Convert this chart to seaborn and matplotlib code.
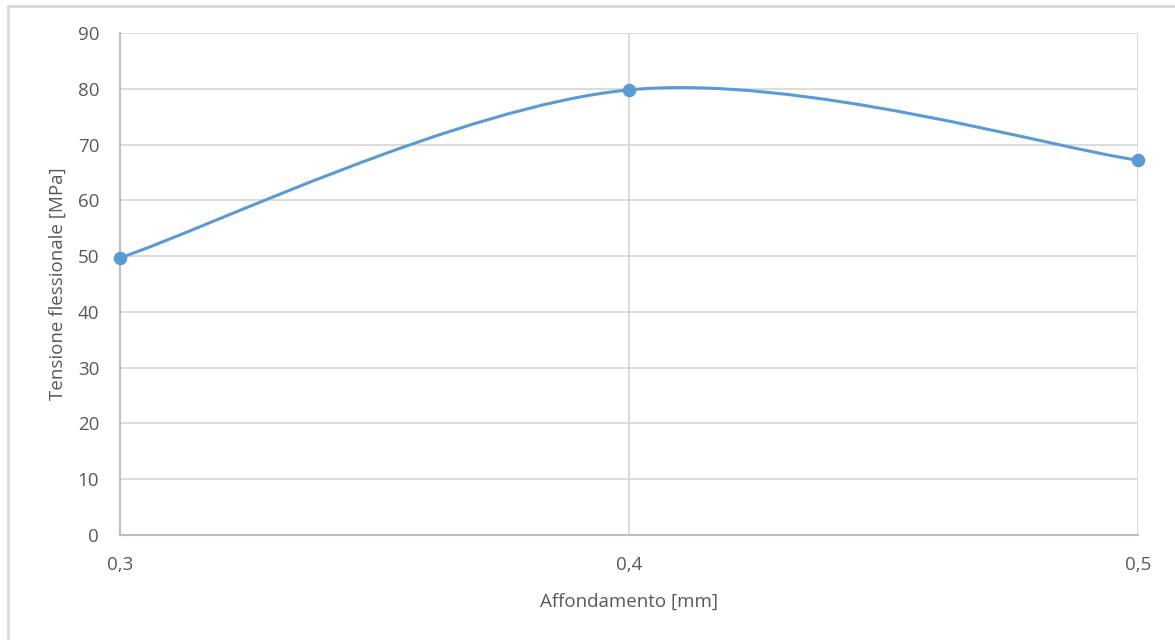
import numpy as np
import matplotlib
matplotlib.use("Agg")
import matplotlib.pyplot as plt
from matplotlib.path import Path
from matplotlib.patches import PathPatch
from matplotlib.lines import Line2D
import seaborn as sns
import pandas as pd

# Data
affondamento = [0.3, 0.4, 0.5]
tensione = [49.7, 79.8, 67.2]
x_ticks = [0.3, 0.4, 0.5]
x_tick_labels = ["0,3", "0,4", "0,5"]
y_ticks = list(range(0, 91, 10))

LINE_COLOR = "#5B9BD5"
GRID_COLOR = "#D9D9D9"
AXIS_COLOR = "#BFBFBF"
TEXT_COLOR = "#595959"

sns.set_theme(style="white")
plt.rcParams["font.family"] = ["Open Sans", "DejaVu Sans"]

df = pd.DataFrame({"x": affondamento, "y": tensione})

W, H, DPI = 1175, 640, 100
fig = plt.figure(figsize=(W / DPI, H / DPI), dpi=DPI)
ax = fig.add_axes([120 / W, 1 - 535 / H, (1138 - 120) / W, (535 - 33) / H])

ax.set_xlim(0.3, 0.5)
ax.set_ylim(0, 90)

# Gridlines
for yv in y_ticks[1:]:
    ax.axhline(yv, color=GRID_COLOR, lw=1.3, zorder=0)
for xv in x_ticks[1:]:
    ax.axvline(xv, color=GRID_COLOR, lw=1.3, zorder=0)

for side in ["top", "right"]:
    ax.spines[side].set_visible(False)
for side in ["left", "bottom"]:
    ax.spines[side].set_color(AXIS_COLOR)
    ax.spines[side].set_linewidth(1.5)

# Smoothed curve: cubic Bezier segments through the points (Catmull-Rom style)
pts = np.column_stack([affondamento, tensione])
ext = np.vstack([pts[0], pts, pts[-1]])
verts = [tuple(pts[0])]
codes = [Path.MOVETO]
for i in range(len(pts) - 1):
    p_prev, p0, p1, p_next = ext[i], ext[i + 1], ext[i + 2], ext[i + 3]
    c1 = p0 + (p1 - p_prev) / 6.0
    c2 = p1 - (p_next - p0) / 6.0
    verts += [tuple(c1), tuple(c2), tuple(p1)]
    codes += [Path.CURVE4] * 3
curve = PathPatch(Path(verts, codes), facecolor="none", edgecolor=LINE_COLOR,
                  lw=2.2, capstyle="round", zorder=3, clip_on=False)
ax.add_patch(curve)

sns.scatterplot(data=df, x="x", y="y", ax=ax, color=LINE_COLOR, s=95,
                edgecolor=LINE_COLOR, linewidth=0, zorder=4, clip_on=False)

ax.set_xticks(x_ticks)
ax.set_xticklabels(x_tick_labels)
ax.set_yticks(y_ticks)
ax.tick_params(axis="both", colors=TEXT_COLOR, labelsize=13.5, length=0)
ax.tick_params(axis="x", pad=15)
ax.tick_params(axis="y", pad=15)

ax.set_xlabel("Affondamento [mm]", color=TEXT_COLOR, fontsize=13.5, labelpad=14)
ax.set_ylabel("Tensione flessionale [MPa]", color=TEXT_COLOR, fontsize=13.5, labelpad=8)

# Chart-area frame
fig.add_artist(Line2D([8 / W, 8 / W], [0, 1 - 6 / H], transform=fig.transFigure,
                      color=GRID_COLOR, lw=2))
fig.add_artist(Line2D([8 / W, 1], [1 - 6 / H, 1 - 6 / H], transform=fig.transFigure,
                      color=GRID_COLOR, lw=2))

fig.savefig("out.png", dpi=DPI)
